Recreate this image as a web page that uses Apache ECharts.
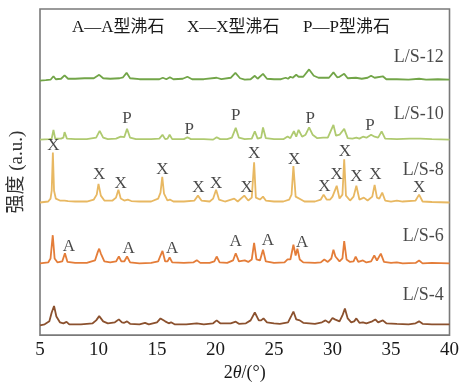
<!DOCTYPE html>
<html>
<head>
<meta charset="utf-8">
<script src="https://cdn.jsdelivr.net/npm/echarts@6/dist/echarts.min.js"></script>
<style>
  html, body { margin: 0; padding: 0; background: #fff; }
  #xrdChart { width: 462px; height: 387px; }
</style>
</head>
<body>
<div id="xrdChart"></div>
<script>
// XRD patterns, [2theta, intensity above own baseline]
const ls12 = [[5,-1],[5.5,-0.5],[5.9,0],[6.15,3.5],[6.35,0.5],[6.8,1],[7.1,4.5],[7.4,1],[8,1],[8.8,1.5],[9.6,1.5],[10.06,5],[10.4,1.5],[11,1],[11.8,1.5],[12.1,2.5],[12.4,7],[12.7,1.5],[13.5,0.5],[14.5,0.5],[15.2,0.5],[15.5,2],[15.8,0.5],[16.1,2.5],[16.4,0.5],[17.2,1],[17.6,3],[18,0.5],[19,0.5],[20.1,2],[20.5,0.5],[21.3,2],[21.7,7],[22.1,1.5],[22.5,0],[23,0.5],[23.36,4],[23.6,1],[24.06,6],[24.4,1],[25,0.5],[25.6,0.5],[26.0,2],[26.2,1],[26.4,3],[26.6,2],[26.9,5],[27.1,3],[27.25,5],[27.5,3],[28.0,10.5],[28.4,4],[28.8,2],[29.3,2],[29.7,2],[30.08,7.5],[30.4,2.5],[30.6,3],[31.0,6],[31.3,1.5],[32.0,2],[32.5,1],[33.0,2],[33.3,4],[33.6,2],[34.3,3.5],[34.6,0.5],[35.5,0.5],[36.5,0],[37.4,1],[38,0],[39,0.5],[40,0]];
const ls10 = [[5,0],[5.8,0.5],[6.0,1],[6.15,10],[6.3,1],[6.8,1],[7.0,2],[7.1,7.7],[7.3,1],[8,0.5],[9,0.5],[9.8,2],[10.1,9],[10.4,2],[10.8,0.5],[11.5,1],[11.9,3],[12.2,2.5],[12.44,11],[12.7,2],[13.2,0.5],[14.5,0.5],[15.2,1],[15.47,5],[15.7,0.5],[15.9,1],[16.08,5],[16.3,0.5],[17.3,0.5],[17.6,2.5],[17.9,0.5],[19,0.5],[19.8,0],[20.1,2.5],[20.4,0.5],[21.0,0.5],[21.4,2],[21.73,12],[22.0,2],[22.5,0.5],[23.1,1],[23.36,8.5],[23.6,1],[23.9,2],[24.06,12.4],[24.3,1.5],[25,0.5],[25.8,0.5],[26.16,3.3],[26.4,1.5],[26.7,8.7],[26.9,3],[27.1,10],[27.4,3],[27.7,5],[28.0,12.4],[28.3,5],[28.7,1.5],[29.2,2],[29.6,2],[30.08,15],[30.3,4],[30.6,5],[31.0,11],[31.3,1.5],[31.7,1],[32.04,2],[32.3,1],[32.6,3],[32.9,2],[33.3,5],[33.6,3],[33.9,2],[34.2,8.4],[34.5,1],[35.5,0.5],[36.6,1],[37.5,1],[38.5,0.5],[40,0]];
const ls8 = [[5,0],[5.7,1],[5.9,4],[6.0,12],[6.1,51],[6.2,12],[6.35,4],[6.7,2],[7.1,2],[7.25,4],[7.4,1.5],[8,1],[9,1],[9.6,3],[9.85,8],[10.0,19],[10.2,7],[10.5,2],[11.2,2],[11.5,5],[11.7,13],[11.9,4],[12.2,2],[12.5,3],[12.8,1.5],[13.5,1],[14.5,1],[15.1,4],[15.3,10],[15.45,26],[15.6,9],[15.9,2],[16.1,3],[16.4,1],[17.3,1],[18.2,2],[18.5,7],[18.8,2],[19.5,1],[19.8,4],[20.05,13],[20.3,3],[20.8,1],[21.6,4],[21.9,1],[22.46,7],[22.8,2],[23.1,5],[23.3,41],[23.45,5],[23.6,7],[23.8,3],[24.06,6],[24.3,2],[25,1],[25.8,1],[26.3,3],[26.5,8],[26.66,37],[26.85,6],[27.0,5],[27.3,3],[27.6,1],[28.5,1],[29.0,3],[29.24,8],[29.5,3],[29.8,3],[30.0,6],[30.15,4],[30.36,17],[30.6,4],[30.85,8],[31.0,44],[31.15,7],[31.5,2],[31.8,6],[32.04,17],[32.3,3],[32.68,5],[33.0,2],[33.4,6],[33.6,18],[33.8,5],[34.0,4],[34.25,10],[34.5,2],[35.0,1],[35.5,2],[36,1],[37.1,2],[37.4,8],[37.7,1],[38.5,0.5],[40,0]];
const ls6 = [[5,0],[5.7,1],[5.9,5],[6.09,28.7],[6.25,5],[6.5,1],[6.9,2],[7.13,10.3],[7.35,1.5],[8,0.5],[9,0.5],[9.7,3],[9.95,12],[10.06,15],[10.2,10],[10.5,2],[11.0,1],[11.5,2],[11.74,7],[11.95,2],[12.2,2],[12.44,7],[12.7,1],[13.5,0],[14.5,0.5],[15.1,2],[15.3,8],[15.47,12.7],[15.7,2],[15.9,2],[16.08,6],[16.3,1],[17.3,0.5],[18.1,1],[18.4,3.3],[18.7,0.5],[19.5,0.5],[19.9,2],[20.1,7],[20.35,1],[21,0.5],[21.5,3],[21.73,10.3],[22.0,2],[22.5,3],[22.8,1.5],[23.1,4],[23.3,21],[23.5,4],[23.8,3],[24.06,14],[24.3,2],[25,0.5],[25.9,1],[26.16,4],[26.4,4],[26.66,19],[26.85,8],[27.0,15],[27.2,4],[27.5,1],[28.5,0.5],[29.0,1],[29.3,4],[29.6,1.5],[29.9,5],[30.08,14],[30.25,7],[30.36,9],[30.6,2],[30.85,5],[31.0,22.7],[31.2,4],[31.5,1.5],[31.8,2],[31.98,7],[32.2,1.5],[32.6,3],[32.9,1],[33.3,2],[33.57,8],[33.8,3],[34.13,10],[34.4,1.5],[35,0.5],[35.5,1],[36,0],[37.1,0.5],[37.4,3],[37.7,0],[38.5,0.5],[40,0]];
const ls4 = [[5,-1],[5.4,0],[5.8,3],[6.0,12],[6.2,18.7],[6.4,8],[6.7,2],[7.0,1],[7.27,2.5],[7.5,0],[8.5,0],[9.5,1],[9.8,4],[10.06,8.3],[10.4,3],[10.8,1],[11.4,2],[11.74,5],[12.0,2],[12.2,1.5],[12.44,3],[12.7,0.5],[13.5,0],[13.98,1.5],[14.3,0],[15.0,2],[15.3,6],[15.47,7.7],[15.7,3],[16.0,1],[16.2,2],[16.5,0],[17.5,0],[18.4,1],[19.0,0],[19.8,1],[20.1,4],[20.4,1],[21.3,1],[21.73,2.7],[22.0,0.5],[22.6,1],[23.0,4],[23.36,12],[23.7,4],[23.9,4],[24.1,6],[24.4,2],[25,1],[25.5,0.5],[26.2,2],[26.5,9],[26.66,13],[26.9,5],[27.2,4],[27.5,1.5],[28.0,1],[28.5,0.5],[29.1,2],[29.4,4],[29.7,1.5],[30.0,6.5],[30.2,5],[30.36,6],[30.6,3],[30.85,9],[31.06,16],[31.3,6],[31.6,2],[31.85,3],[32.04,6],[32.3,1.5],[32.6,2],[32.9,1],[33.4,3],[33.66,5],[33.9,2],[34.3,4],[34.6,1],[35.5,0.5],[36.5,0],[37.1,1],[37.4,3],[37.7,0.5],[38.5,0],[40,0]];

const sampleNames = ['L/S-12', 'L/S-10', 'L/S-8', 'L/S-6', 'L/S-4'];
const traces = [ls12, ls10, ls8, ls6, ls4];
const offsets = [260, 199, 135, 73, 11];   // vertical stacking of the patterns
const nameY = [283, 225, 168, 101, 41];
const colors = ['#72a548', '#afca70', '#e8b862', '#e47d39', '#8b512e'];

// peak markers: [2theta, height on the stacked scale]
const pMarks = [[12.44,220],[17.76,209],[21.73,224],[28.1,220],[33.2,213]];
const xMarks = [[6.15,193],[10.06,163],[11.9,154],[15.47,169],[18.54,150],[20.05,154],[22.66,150],[23.3,185],[26.72,179],[29.3,151],[30.36,163],[31.05,187],[32.04,161],[33.66,163],[37.41,150]];
const aMarks = [[7.46,90],[12.58,88],[16.3,88],[21.73,95],[24.48,96],[27.4,94]];

const FONT = '"Liberation Serif", "Times New Roman", "Noto Sans CJK SC", serif';
const INK = '#1a1a1a';

let chart = echarts.init(document.getElementById('xrdChart'));

let series = traces.map(function (d, i) {
    return {
        name: sampleNames[i],
        type: 'line',
        data: d.map(p => [p[0], p[1] + offsets[i]]),
        showSymbol: false,
        lineStyle: {color: colors[i], width: 1.8},
        z: 2
    };
});

function markSeries(marks, letter) {
    return {
        type: 'scatter',
        symbolSize: 0,
        data: marks.map(m => [m[0], m[1]]),
        label: {
            show: true, position: 'inside', formatter: letter,
            color: INK, fontSize: 17, fontFamily: FONT
        },
        z: 3
    };
}
series.push(markSeries(pMarks, 'P'));
series.push(markSeries(xMarks, 'X'));
series.push(markSeries(aMarks, 'A'));

series.push({
    type: 'scatter',
    symbolSize: 0,
    data: sampleNames.map((n, i) => [39.5, nameY[i], n]),
    label: {
        show: true, position: 'left', distance: 0,
        formatter: p => p.data[2],
        color: INK, fontSize: 18, fontFamily: FONT
    },
    z: 3
});

let option = {
    animation: false,
    backgroundColor: '#fff',
    grid: {
        left: 38, right: 7, top: 9, bottom: 46,
        show: true, borderColor: '#7a7a7a', borderWidth: 1.6
    },
    graphic: [
        {type: 'text', left: 72, top: 19, style: {text: 'A—A型沸石', font: '17px ' + FONT, fill: INK}},
        {type: 'text', left: 187, top: 19, style: {text: 'X—X型沸石', font: '17px ' + FONT, fill: INK}},
        {type: 'text', left: 303, top: 19, style: {text: 'P—P型沸石', font: '17px ' + FONT, fill: INK}}
    ],
    xAxis: {
        type: 'value',
        min: 5, max: 40, interval: 5,
        axisLine: {show: false},
        axisTick: {show: false},
        splitLine: {show: false},
        axisLabel: {color: INK, fontSize: 19, fontFamily: FONT, margin: 5},
        name: '2{i|θ}/(°)',
        nameLocation: 'middle',
        nameGap: 27,
        nameTextStyle: {
            color: INK, fontSize: 18, fontFamily: FONT,
            rich: {i: {fontStyle: 'italic', fontSize: 18, fontFamily: FONT, color: INK}}
        }
    },
    yAxis: {
        type: 'value',
        min: 0, max: 332,
        axisLine: {show: false},
        axisTick: {show: false},
        axisLabel: {show: false},
        splitLine: {show: false},
        name: '强度 (a.u.)',
        nameLocation: 'middle',
        nameGap: 13,
        nameTextStyle: {color: '#333', fontSize: 19, fontFamily: FONT}
    },
    series: series
};

chart.setOption(option);
</script>
</body>
</html>
